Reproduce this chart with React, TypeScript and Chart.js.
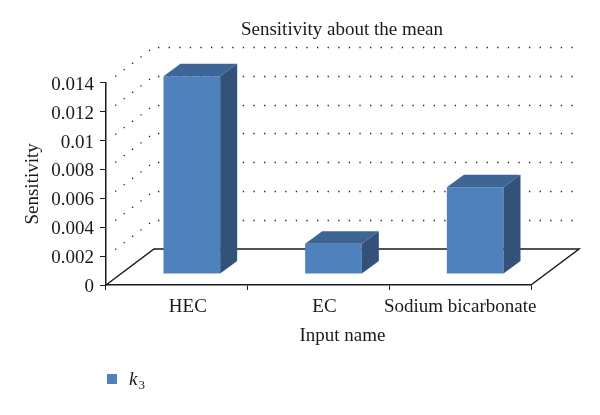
import React, { useEffect, useRef } from "react";
import { Chart, registerables } from "chart.js";

Chart.register(...registerables);

const categories = ["HEC", "EC", "Sodium bicarbonate"];
const sensitivity = [0.0137, 0.0021, 0.006];
const seriesSymbol = "k";
const seriesSubscript = "3";
const chartTitle = "Sensitivity about the mean";
const xTitle = "Input name";
const yTitle = "Sensitivity";

const FONT = "'Liberation Serif', serif";
const FRONT = "#4f81bd";
const TOP = "#3d6595";
const SIDE = "#33527a";
const INK = "#1a1a1a";

const wall = { dx: 48, dy: -36 };
const barShift = { dx: 15, dy: -11 };
const barDepth = { dx: 17, dy: -12.5 };
const xLabelNudge = [11, 6, 0];
const yLabelNudge = 2;

const threeD = {
  id: "threeD",
  afterLayout(chart: any) {
    chart.titleBlock.left = 84;
    chart.titleBlock.right = 600;
    const { x, y } = chart.scales;
    if (!x.__wrapped) {
      x.__wrapped = true;
      const orig = x.drawTitle.bind(x);
      x.drawTitle = () => {
        const r = x.right;
        x.right = r + 48;
        orig();
        x.right = r;
      };
    }
    x.getLabelItems(chart.chartArea).forEach((item: any, i: number) => {
      item.options.translation[0] += xLabelNudge[i] || 0;
    });
    y.getLabelItems(chart.chartArea).forEach((item: any) => {
      item.options.translation[1] += yLabelNudge;
    });
  },
  beforeDatasetsDraw(chart: any) {
    const { ctx, chartArea: a, scales } = chart;
    const y = scales.y;
    const bottom = y.getPixelForValue(0);
    ctx.save();
    ctx.strokeStyle = INK;
    ctx.lineWidth = 1.5;
    ctx.beginPath();
    ctx.moveTo(a.left, bottom);
    ctx.lineTo(a.left + wall.dx, bottom + wall.dy);
    ctx.lineTo(a.right + wall.dx, bottom + wall.dy);
    ctx.lineTo(a.right, bottom);
    ctx.stroke();
    ctx.lineWidth = 1.3;
    ctx.strokeStyle = "#222";
    ctx.setLineDash([1.3, 9.3]);
    y.ticks.forEach((t: any) => {
      if (t.value === 0) return;
      const py = Math.round(y.getPixelForValue(t.value));
      ctx.beginPath();
      ctx.moveTo(a.left + wall.dx + 4, py + wall.dy + 0.5);
      ctx.lineTo(a.right + wall.dx - 4, py + wall.dy + 0.5);
      ctx.stroke();
      ctx.beginPath();
      ctx.moveTo(a.left + wall.dx - 4, py + wall.dy + 3);
      ctx.lineTo(a.left + 6, py - 4);
      ctx.stroke();
    });
    ctx.restore();
    ctx.save();
    ctx.translate(barShift.dx, barShift.dy);
  },
  afterDatasetsDraw(chart: any) {
    const { ctx } = chart;
    chart.getDatasetMeta(0).data.forEach((bar: any) => {
      const { x, y, base, width } = bar.getProps(["x", "y", "base", "width"], true);
      const l = x - width / 2;
      const r = x + width / 2;
      ctx.fillStyle = TOP;
      ctx.beginPath();
      ctx.moveTo(l, y);
      ctx.lineTo(l + barDepth.dx, y + barDepth.dy);
      ctx.lineTo(r + barDepth.dx, y + barDepth.dy);
      ctx.lineTo(r, y);
      ctx.closePath();
      ctx.fill();
      ctx.fillStyle = SIDE;
      ctx.beginPath();
      ctx.moveTo(r, y);
      ctx.lineTo(r + barDepth.dx, y + barDepth.dy);
      ctx.lineTo(r + barDepth.dx, base + barDepth.dy);
      ctx.lineTo(r, base);
      ctx.closePath();
      ctx.fill();
    });
    ctx.restore();
  },
  afterDraw(chart: any) {
    const { ctx, chartArea: a } = chart;
    ctx.save();
    ctx.fillStyle = FRONT;
    ctx.fillRect(a.left + 1, 374, 10, 10);
    ctx.fillStyle = "#1a1a1a";
    ctx.textBaseline = "alphabetic";
    ctx.font = `italic 19px ${FONT}`;
    ctx.fillText(seriesSymbol, 129, 385);
    const w = ctx.measureText(seriesSymbol).width;
    ctx.font = `13px ${FONT}`;
    ctx.fillText(seriesSubscript, 129 + w + 1, 389);
    ctx.restore();
  },
};

export default function App() {
  const ref = useRef<HTMLCanvasElement>(null);
  useEffect(() => {
    document.body.style.margin = "0";
    const chart = new Chart(ref.current!, {
      type: "bar",
      plugins: [threeD],
      data: {
        labels: categories,
        datasets: [
          {
            label: seriesSymbol + seriesSubscript,
            data: sensitivity,
            backgroundColor: FRONT,
            borderWidth: 0,
            categoryPercentage: 1,
            barPercentage: 0.4,
            clip: false,
          } as any,
        ],
      },
      options: {
        responsive: false,
        animation: false,
        layout: { padding: { left: 0, right: 69, top: 0, bottom: 0 } },
        plugins: {
          legend: { display: false },
          tooltip: { enabled: false },
          title: {
            display: true,
            text: chartTitle,
            color: INK,
            font: { family: FONT, size: 19, weight: "normal" },
            padding: { top: 19, bottom: 41 },
          },
        },
        scales: {
          x: {
            grid: { drawOnChartArea: false, drawTicks: true, tickLength: 5, color: INK, offset: true },
            border: { color: INK, width: 1.5 },
            ticks: { color: INK, font: { family: FONT, size: 19 }, padding: 6, maxRotation: 0, autoSkip: false },
            title: {
              display: true,
              text: xTitle,
              color: INK,
              font: { family: FONT, size: 19 },
              padding: { top: 6, bottom: 68 },
            },
            afterFit(s: any) {
              s.height = 130;
            },
          },
          y: {
            min: 0,
            max: 0.014,
            grid: { drawOnChartArea: false, drawTicks: true, tickLength: 6, color: INK },
            border: { color: INK, width: 1.5 },
            ticks: {
              stepSize: 0.002,
              color: INK,
              font: { family: FONT, size: 19 },
              padding: 6,
              callback: (v: any) => String(Number(Number(v).toFixed(3))),
            },
            title: {
              display: true,
              text: yTitle,
              color: INK,
              font: { family: FONT, size: 19 },
              padding: { top: 22, bottom: 0 },
            },
            afterFit(s: any) {
              s.width = 106;
            },
          },
        },
      },
    } as any);
    return () => chart.destroy();
  }, []);
  return <canvas ref={ref} width={600} height={415} style={{ display: "block" }} />;
}
